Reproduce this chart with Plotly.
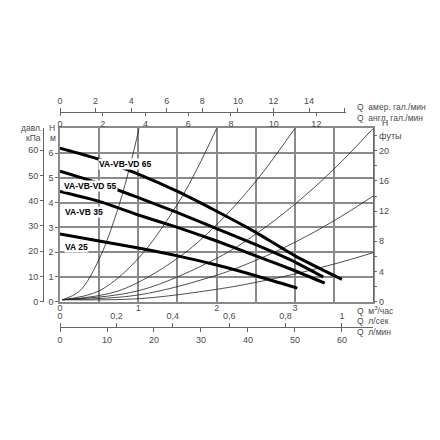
import plotly.graph_objects as go

# ---------------- data ----------------
# pump curves: Q in m3/h, H in m
q65 = [0, 0.5, 1.0, 1.5, 2.0, 2.5, 3.0, 3.6]
h65 = [6.2, 5.75, 5.15, 4.45, 3.65, 2.8, 1.85, 0.9]
q55 = [0, 0.5, 1.0, 1.5, 2.0, 2.5, 3.0, 3.36]
h55 = [5.27, 4.78, 4.2, 3.6, 2.95, 2.3, 1.6, 1.0]
q35 = [0, 0.5, 1.0, 1.5, 2.0, 2.5, 3.0, 3.38]
h35 = [4.45, 4.05, 3.5, 3.0, 2.45, 1.85, 1.25, 0.75]
q25 = [0, 0.5, 1.0, 1.5, 2.0, 2.5, 3.03]
h25 = [2.73, 2.45, 2.17, 1.85, 1.48, 1.05, 0.55]
pump_names = ["VA-VB-VD 65", "VA-VB-VD 55", "VA-VB 35", "VA 25"]

# thin system curves (Q m3/h, H m)
sys_q1 = [0.03, 0.25, 0.5, 0.75, 0.9, 1.01]
sys_h1 = [0.08, 0.43, 1.72, 3.86, 5.56, 7.0]
sys_q2 = [0.03, 0.5, 1.0, 1.5, 1.75, 2.0]
sys_h2 = [0.08, 0.44, 1.75, 3.94, 5.36, 7.0]
sys_q3 = [0.03, 0.75, 1.5, 2.0, 2.5, 3.0]
sys_h3 = [0.08, 0.44, 1.75, 3.11, 4.86, 7.0]
sys_q4 = [0.03, 1.0, 2.0, 2.5, 3.0, 3.5, 4.0]
sys_h4 = [0.08, 0.44, 1.75, 2.73, 3.94, 5.36, 7.0]
sys_q5 = [0.03, 1.0, 2.0, 2.5, 3.0, 3.5, 4.0]
sys_h5 = [0.08, 0.27, 1.07, 1.67, 2.4, 3.27, 4.27]
sys_q6 = [0.03, 1.0, 2.0, 2.5, 3.0, 3.5, 4.0]
sys_h6 = [0.08, 0.12, 0.5, 0.78, 1.12, 1.52, 1.98]

# tick labels
m3h_ticks = [0, 0.5, 1, 1.5, 2, 2.5, 3, 3.5, 4]
m3h_text = ["0", " ", "1", " ", "2", " ", "3", " ", " "]
hm_ticks = [0, 1, 2, 3, 4, 5, 6]
kpa_ticks = [0, 10, 20, 30, 40, 50, 60]
ft_ticks = [0, 2, 4, 6, 8, 10, 12, 14, 16, 18, 20, 22]
ft_text = ["0", " ", "4", " ", "8", " ", "12", " ", "16", " ", "20", "футы"]
usg_ticks = [0, 2, 4, 6, 8, 10, 12, 14, 16]
usg_text = ["0", "2", "4", "6", "8", "10", "12", "14", " "]
impg_ticks = [0, 2, 4, 6, 8, 10, 12]
ls_ticks = [0, 0.2, 0.4, 0.6, 0.8, 1.0]
ls_text = ["0", "0,2", "0,4", "0,6", "0,8", "1"]
lmin_ticks = [0, 10, 20, 30, 40, 50, 60]

# unit conversions
M3H_USG = 4.40287
M3H_IMPG = 3.66615
M3H_LS = 1 / 3.6
M3H_LMIN = 1000 / 60
M_KPA = 9.80665
M_FT = 1 / 0.3048

# ---------------- layout geometry ----------------
W = Hh = 440
OFF = 8          # page body margin of the html page
ML = MR = MT = MB = 10
def px(x):
    return (x - OFF - ML) / (W - ML - MR)
def py(y):
    return (Hh - MB - (y - OFF)) / (Hh - MT - MB)

X0, X1 = 60, 373.3
Y0, Y1 = 301.7, 128.3
QMAX, HMAX = 4.0, 7.0
top_end = 346
q_top_end = (top_end - X0) / (X1 - X0) * QMAX

GRID = "#8a8a8a"
TICKC = "#666666"
TXT = "#4a4a4a"
TFONT = dict(family="Liberation Sans, Arial, sans-serif", size=9, color=TXT)
LFONT = dict(family="Liberation Sans Narrow, Arial Narrow, Liberation Sans, sans-serif",
             size=8.5, color="black")

fig = go.Figure()

for qs, hs in [(sys_q1, sys_h1), (sys_q2, sys_h2), (sys_q3, sys_h3),
               (sys_q4, sys_h4), (sys_q5, sys_h5), (sys_q6, sys_h6)]:
    fig.add_trace(go.Scatter(x=qs, y=hs, mode="lines", line=dict(color="#222", width=0.8, shape="spline"),
                             hoverinfo="skip", showlegend=False, cliponaxis=True))

for qs, hs, nm in [(q65, h65, pump_names[0]), (q55, h55, pump_names[1]),
                   (q35, h35, pump_names[2]), (q25, h25, pump_names[3])]:
    fig.add_trace(go.Scatter(x=qs, y=hs, mode="lines", name=nm,
                             line=dict(color="black", width=3, shape="spline", smoothing=0.6),
                             showlegend=False))

# dummy traces to attach auxiliary axes
dummy = dict(x=[None], y=[None], mode="markers", hoverinfo="skip", showlegend=False)
fig.add_trace(go.Scatter(xaxis="x2", yaxis="y4", **dummy))
fig.add_trace(go.Scatter(xaxis="x3", yaxis="y4", **dummy))
fig.add_trace(go.Scatter(xaxis="x4", yaxis="y", **dummy))
fig.add_trace(go.Scatter(xaxis="x5", yaxis="y", **dummy))
fig.add_trace(go.Scatter(xaxis="x", yaxis="y2", **dummy))
fig.add_trace(go.Scatter(xaxis="x", yaxis="y3", **dummy))

xdom = [px(X0), px(X1)]
ydom = [py(Y0), py(Y1)]

fig.update_layout(
    width=W, height=Hh,
    margin=dict(l=ML, r=MR, t=MT, b=MB),
    paper_bgcolor="white", plot_bgcolor="rgba(0,0,0,0)",
    showlegend=False,
    font=TFONT,
    xaxis=dict(domain=xdom, range=[0, QMAX], tickvals=m3h_ticks, ticktext=m3h_text,
               showgrid=True, gridcolor=GRID, gridwidth=1.5, zeroline=False,
               showline=True, linecolor=GRID, linewidth=1.5, mirror=True,
               ticks="outside", ticklen=0, ticklabelstandoff=-3,
               tickfont=TFONT, anchor="y", automargin=False),
    yaxis=dict(domain=ydom, range=[0, HMAX], tickvals=hm_ticks,
               showgrid=True, gridcolor=GRID, gridwidth=1.5, zeroline=False,
               showline=True, linecolor=GRID, linewidth=1.5, mirror=True,
               ticks="outside", ticklen=3, tickcolor=TICKC, tickfont=TFONT, anchor="x",
               automargin=False),
    yaxis2=dict(overlaying="y", anchor="free", position=px(43), side="left",
                range=[0, HMAX * M_KPA], tickvals=kpa_ticks,
                showgrid=False, zeroline=False, showline=True, linecolor=TICKC, linewidth=1,
                ticks="outside", ticklen=3, tickcolor=TICKC, tickfont=TFONT, automargin=False),
    yaxis3=dict(overlaying="y", anchor="x", side="right",
                range=[0, HMAX * M_FT], tickvals=ft_ticks, ticktext=ft_text,
                showgrid=False, zeroline=False, showline=True, linecolor=TICKC, linewidth=1,
                ticks="outside", ticklen=3, tickcolor=TICKC, tickfont=TFONT, automargin=False),
    yaxis4=dict(overlaying="y", visible=False, range=[0, 1]),
    xaxis2=dict(domain=[px(X0), px(top_end)], anchor="free", position=py(111.7), side="top",
                range=[0, q_top_end * M3H_USG], tickvals=usg_ticks, ticktext=usg_text,
                showgrid=False, zeroline=False, showline=True, linecolor=TICKC, linewidth=1,
                ticks="outside", ticklen=4, tickcolor=TICKC, tickfont=TFONT, automargin=False),
    xaxis3=dict(overlaying="x2", anchor="free", position=py(111.7), side="bottom",
                range=[0, q_top_end * M3H_IMPG], tickvals=impg_ticks,
                showgrid=False, zeroline=False, showline=False,
                ticks="outside", ticklen=3, tickcolor=TICKC, tickfont=TFONT, automargin=False),
    xaxis4=dict(overlaying="x", anchor="free", position=py(326.7), side="top",
                range=[0, QMAX * M3H_LS], tickvals=ls_ticks, ticktext=ls_text,
                showgrid=False, zeroline=False, showline=True, linecolor=TICKC, linewidth=1,
                ticks="outside", ticklen=4, tickcolor=TICKC, tickfont=TFONT, automargin=False),
    xaxis5=dict(overlaying="x", anchor="free", position=py(326.7), side="bottom",
                range=[0, QMAX * M3H_LMIN], tickvals=lmin_ticks,
                showgrid=False, zeroline=False, showline=False,
                ticks="outside", ticklen=4, tickcolor=TICKC, tickfont=TFONT, automargin=False),
)

# curve labels (on white boxes, cutting the lines)
label_pos = [(0.84, 5.55), (0.39, 4.67), (0.31, 3.62), (0.21, 2.2)]
for nm, (qx, hy) in zip(pump_names, label_pos):
    fig.add_annotation(x=qx, y=hy, xref="x", yref="y", text="<b>" + nm + "</b>",
                       showarrow=False, font=LFONT, bgcolor="white", borderpad=0)

# axis unit labels
SFONT = dict(family="Liberation Sans, Arial, sans-serif", size=8.5, color=TXT)
def lab(x, y, text, anchor="left"):
    fig.add_annotation(x=px(x), y=py(y), xref="paper", yref="paper", text=text,
                       showarrow=False, xanchor=anchor, yanchor="middle", font=SFONT)

lab(355, 106.5, "Q  амер. гал./мин")
lab(355, 117.5, "Q  англ. гал./мин")
lab(355, 310.5, "Q  м<sup>3</sup>/час")
lab(355, 320.5, "Q  л/сек")
lab(355, 332, "Q  л/мин")
lab(385, 123, "Н", "center")
lab(31, 128.5, "давл.", "center")
lab(33, 137.5, "кПа", "center")
lab(52, 128.5, "Н", "center")
lab(53, 137.5, "м", "center")

fig.write_html("out.html")
